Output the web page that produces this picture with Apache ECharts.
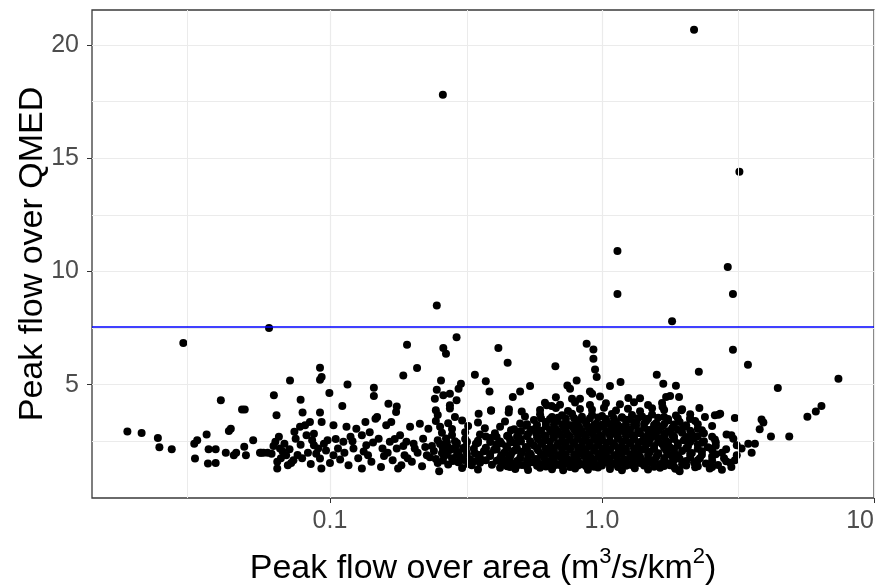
<!DOCTYPE html>
<html>
<head>
<meta charset="utf-8">
<title>Peak flow over QMED</title>
<script src="https://cdn.jsdelivr.net/npm/echarts@6/dist/echarts.min.js"></script>
<style>
  html, body { margin: 0; padding: 0; background: #fff; }
  #chart { width: 879px; height: 586px; }
</style>
</head>
<body>
<div id="chart"></div>
<script>
// [peak flow over area (m3/s/km2), peak flow over QMED]

// the scattered high ones
var highSites = [
  [2.18,20.67],[0.26,17.8],[3.2,14.4],[1.14,10.9],[2.9,10.2],[1.14,9.0],[3.03,9.0],[0.247,8.5],
  [1.81,7.8],[0.0597,7.5],[0.292,7.1],[0.0289,6.84],[0.878,6.81],[0.192,6.76],[0.261,6.62],
  [0.416,6.62],[0.93,6.56],[3.03,6.54],[0.267,6.37],[0.93,6.15],[0.45,5.97],[3.44,5.88],
  [0.674,5.82],[0.0919,5.75],[0.209,5.74],[0.943,5.67],[2.27,5.57],[0.341,5.44],[1.59,5.44],
  [0.186,5.41],[0.0932,5.34],[0.956,5.34],[7.4,5.26],[0.0919,5.22],[0.0713,5.19],[0.256,5.19],
  [0.807,5.19],[0.374,5.15],[1.17,5.12],[0.303,5.04],[1.68,5.04],[0.116,5.01],[0.746,4.97],
  [1.87,4.95],[1.07,4.94],[0.544,4.94],[0.145,4.87],[4.43,4.86],[0.297,4.82],[0.763,4.82],
  [0.247,4.78],[0.386,4.70],[0.5,4.70],[0.903,4.70],[0.0995,4.63],[0.276,4.60],[0.92,4.6],
  [0.0622,4.53],[0.261,4.53],[0.145,4.50],[1.78,4.50],[0.47,4.46],[1.92,4.46],[1.25,4.41],
  [0.243,4.38],[0.83,4.38],[0.078,4.34],[0.0397,4.31],[0.292,4.31],[0.164,4.16],[0.276,4.09],
  [0.626,4.09],[0.653,4.06],[6.41,4.06],[0.111,4.06],[0.176,4.04],[1.67,4.02],[2.28,3.97],
  [0.0475,3.91],[0.0486,3.91],[0.391,3.87],[1.96,3.87],[0.245,3.87],[0.507,3.82],[6.11,3.82],
  [0.175,3.80],[0.0793,3.77],[0.0919,3.77],[0.454,3.77],[0.352,3.72],[2.72,3.72],[2.68,3.68],
  [0.0636,3.65],[2.6,3.65],[5.69,3.59],[3.08,3.53],[2.11,3.5],[3.86,3.46],[0.0932,3.36],
  [3.92,3.33],[0.103,3.21],[3.8,3.03],[4.18,2.72],[4.88,2.72],[2.87,2.8],[2.99,2.77],
  [3.04,2.62],[3.45,2.40],[3.65,2.40],[3.13,2.33],[3.26,2.18],[3.55,2.0],[3.13,1.89],
  [3.08,1.67],[2.99,1.37],[1.93,1.18],[1.92,1.22],[1.78,1.45],[0.252,1.18],[0.332,1.45],
  [0.356,1.56],[0.459,1.37]
];

// small catchment ratios, left of 0.06
var leftSites = [
  [0.018,2.94],[0.0203,2.87],[0.0233,2.65],[0.0236,2.24],[0.0262,2.15],[0.0317,2.4],[0.0325,2.55],
  [0.0319,1.74],[0.0352,2.8],[0.0358,2.15],[0.038,2.15],[0.0356,1.52],[0.038,1.55],[0.0425,2.96],
  [0.0432,3.06],[0.0414,2.0],[0.0443,1.89],[0.0452,2.0],[0.0484,2.26],[0.0491,1.89],[0.0522,2.55],
  [0.0559,2.0],[0.0553,2.0],[0.057,2.0],[0.059,2.0]
];

// between 0.06 and 0.23
var midSites = [
  [0.063,2.48],[0.0649,2.7],[0.0655,2.18],[0.064,1.6],[0.064,1.3],[0.069,1.89],[0.07,1.45],
  [0.0734,1.67],[0.074,2.92],[0.0748,2.62],[0.0776,3.14],[0.081,3.21],[0.0844,3.36],[0.082,2.77],
  [0.0873,2.84],[0.0873,2.33],[0.0905,2.18],[0.0919,1.74],[0.093,1.3],[0.0967,2.1],[0.098,2.55],
  [0.103,1.89],[0.107,2.18],[0.112,2.48],[0.115,3.14],[0.119,2.7],[0.122,2.18],[0.125,3.06],
  [0.131,2.77],[0.131,1.3],[0.135,3.36],[0.136,2.33],[0.138,1.89],[0.142,1.6],[0.147,3.5],
  [0.149,3.58],[0.151,2.62],[0.154,1.37],[0.156,2.18],[0.161,3.21],[0.166,2.48],[0.168,3.36],
  [0.17,1.67],[0.176,2.18],[0.181,2.77],[0.183,1.45],[0.188,1.89],[0.191,2.48],[0.197,3.14],
  [0.2,1.6],[0.205,2.18],[0.214,3.28],[0.22,2.62],[0.227,1.89],[0.23,3.06],
  [0.061,1.95],[0.062,2.3],[0.066,1.75],[0.067,2.05],[0.068,2.4],[0.071,2.15],[0.072,1.55],
  [0.076,1.9],[0.078,2.35],[0.079,1.75],[0.083,2.0],[0.085,1.5],[0.086,2.55],[0.089,1.95],
  [0.095,2.4],[0.1,1.55],[0.105,2.6],[0.109,1.7],[0.113,2.0],[0.117,1.45],[0.121,2.5],
  [0.127,1.75],[0.133,2.05],[0.14,2.9],[0.144,2.45],[0.158,1.85],[0.163,2.0],[0.173,2.6],
  [0.178,1.3],[0.186,2.3],[0.193,1.75],[0.203,2.4],[0.21,2.0],[0.218,1.4],[0.224,2.25]
];

// the dense band 0.23 - 3, read row by row
var denseSites = [
  [0.306,1.32],[0.35,1.26],[0.422,1.34],[0.48,1.28],[0.535,1.24],[0.592,1.33],[0.655,1.27],
  [0.72,1.22],[0.796,1.3],[0.888,1.25],[0.967,1.35],[1.07,1.28],[1.184,1.23],[1.32,1.31],
  [1.477,1.26],[1.635,1.34],[1.86,1.29],[2.2,1.36],[2.49,1.3],[2.76,1.25],

  [0.249,1.55],[0.272,1.48],[0.296,1.58],[0.322,1.5],[0.356,1.6],[0.394,1.47],[0.43,1.55],
  [0.467,1.52],[0.508,1.46],[0.553,1.58],[0.602,1.5],[0.644,1.56],[0.689,1.47],[0.737,1.53],
  [0.789,1.6],[0.844,1.49],[0.903,1.55],[0.967,1.46],[1.034,1.58],[1.107,1.51],[1.184,1.56],
  [1.268,1.47],[1.38,1.54],[1.502,1.58],[1.635,1.5],[1.78,1.55],[1.97,1.48],[2.18,1.57],
  [2.41,1.52],[2.67,1.46],[2.96,1.56],

  [0.233,1.8],[0.245,1.72],[0.263,1.84],[0.281,1.76],[0.301,1.82],[0.327,1.71],[0.356,1.79],
  [0.388,1.85],[0.422,1.74],[0.459,1.81],[0.5,1.77],[0.535,1.86],[0.572,1.72],[0.612,1.8],
  [0.655,1.75],[0.701,1.83],[0.75,1.7],[0.803,1.78],[0.859,1.85],[0.919,1.73],[0.983,1.8],
  [1.052,1.76],[1.126,1.84],[1.205,1.71],[1.289,1.79],[1.38,1.82],[1.477,1.74],[1.581,1.8],
  [1.692,1.77],[1.81,1.85],[1.93,1.73],[2.11,1.8],[2.29,1.76],[2.54,1.83],[2.81,1.75],

  [0.241,2.08],[0.258,1.98],[0.276,2.12],[0.296,2.03],[0.316,2.1],[0.341,1.97],[0.368,2.06],
  [0.401,2.13],[0.437,2.0],[0.475,2.09],[0.508,2.04],[0.544,1.96],[0.582,2.11],[0.622,2.02],
  [0.666,2.08],[0.713,1.99],[0.763,2.14],[0.816,2.05],[0.874,1.97],[0.935,2.1],[1.0,2.03],
  [1.07,2.12],[1.145,1.98],[1.225,2.07],[1.311,2.01],[1.404,2.13],[1.502,2.04],[1.608,1.98],
  [1.721,2.1],[1.84,2.02],[1.97,2.08],[2.14,1.99],[2.33,2.06],[2.54,2.12],[2.76,2.0],

  [0.237,2.3],[0.254,2.38],[0.272,2.24],[0.291,2.33],[0.316,2.27],[0.344,2.39],[0.374,2.22],
  [0.408,2.35],[0.444,2.28],[0.483,2.4],[0.525,2.25],[0.562,2.32],[0.602,2.38],[0.644,2.23],
  [0.689,2.34],[0.737,2.29],[0.789,2.4],[0.844,2.24],[0.903,2.31],[0.967,2.37],[1.034,2.22],
  [1.107,2.33],[1.184,2.28],[1.268,2.39],[1.357,2.25],[1.452,2.34],[1.554,2.3],[1.663,2.38],
  [1.78,2.23],[1.90,2.32],[2.07,2.27],[2.25,2.36],[2.45,2.24],[2.62,2.31],

  [0.249,2.55],[0.267,2.63],[0.288,2.5],[0.314,2.6],[0.35,2.53],[0.388,2.65],[0.422,2.49],
  [0.459,2.58],[0.5,2.62],[0.544,2.51],[0.582,2.6],[0.622,2.55],[0.666,2.66],[0.713,2.49],
  [0.763,2.57],[0.816,2.63],[0.874,2.52],[0.935,2.6],[1.0,2.56],[1.07,2.48],[1.145,2.64],
  [1.225,2.54],[1.311,2.61],[1.404,2.5],[1.502,2.58],[1.608,2.65],[1.721,2.52],[1.84,2.6],
  [2.0,2.55],[2.18,2.63],[2.37,2.5],[2.6,2.58],

  [0.258,2.88],[0.281,2.78],[0.314,2.9],[0.356,2.8],[0.404,2.86],[0.452,2.76],[0.491,2.92],
  [0.535,2.82],[0.572,2.87],[0.612,2.77],[0.655,2.9],[0.701,2.83],[0.75,2.79],[0.803,2.91],
  [0.859,2.81],[0.919,2.87],[0.983,2.76],[1.052,2.89],[1.126,2.82],[1.205,2.93],[1.289,2.78],
  [1.38,2.86],[1.477,2.8],[1.581,2.9],[1.692,2.84],[1.81,2.77],[1.97,2.88],[2.14,2.81],[2.37,2.86],

  [0.254,3.15],[0.281,3.05],[0.322,3.18],[0.371,3.08],[0.422,3.14],[0.475,3.03],[0.525,3.19],
  [0.572,3.1],[0.622,3.16],[0.677,3.04],[0.725,3.12],[0.776,3.2],[0.83,3.07],[0.888,3.14],
  [0.951,3.02],[1.017,3.17],[1.088,3.09],[1.164,3.13],[1.246,3.05],[1.334,3.19],[1.428,3.1],
  [1.528,3.04],[1.663,3.16],[1.81,3.08],[2.0,3.13],[2.25,3.06],[2.54,3.18],

  [0.245,3.4],[0.272,3.3],[0.306,3.42],[0.35,3.33],[0.44,3.38],[0.5,3.29],[0.562,3.44],
  [0.622,3.35],[0.677,3.4],[0.737,3.31],[0.803,3.43],[0.874,3.36],[0.951,3.28],[1.034,3.41],
  [1.126,3.34],[1.225,3.45],[1.334,3.32],[1.452,3.39],[1.581,3.3],[1.75,3.42],[1.93,3.35],[2.2,3.4],

  [0.249,3.66],[0.288,3.58],[0.521,3.6],[0.592,3.7],[0.655,3.57],[0.713,3.65],[0.776,3.72],
  [0.844,3.59],[0.919,3.68],[1.0,3.62],[1.088,3.71],[1.184,3.56],[1.289,3.66],[1.404,3.6],
  [1.528,3.69],[1.692,3.57],[1.87,3.64],[2.11,3.7],[2.39,3.58],

  [0.276,3.95],[0.391,3.85],[0.455,3.92],[0.592,3.88],[0.677,3.97],[0.75,3.84],[0.83,3.93],
  [0.919,3.89],[1.017,3.98],[1.126,3.86],[1.246,3.94],[1.38,3.83],[1.528,3.96],[1.692,3.88],[1.97,3.92],

  [0.617,4.2],[0.701,4.12],[0.796,4.22],[0.903,4.1],[1.034,4.18],[1.164,4.14],[1.311,4.23],
  [1.477,4.11],[1.663,4.19],
  [0.677,4.45],[0.776,4.38],[0.983,4.48],[1.38,4.4],[1.721,4.46]
];

// the solid black core, between the rows above
var coreSites = [
  [0.448,1.4],[0.487,1.43],[0.53,1.38],[0.577,1.42],[0.622,1.39],[0.666,1.44],[0.713,1.4],
  [0.763,1.37],[0.816,1.43],[0.874,1.4],[0.935,1.38],[1.0,1.44],[1.07,1.41],[1.145,1.37],
  [1.225,1.42],[1.311,1.4],[1.428,1.44],[1.554,1.38],[1.692,1.41],[1.84,1.39],[2.04,1.43],
  [2.25,1.4],[2.54,1.37],

  [0.26,1.66],[0.283,1.63],[0.309,1.68],[0.338,1.62],[0.374,1.67],[0.41,1.64],[0.448,1.69],
  [0.487,1.63],[0.53,1.66],[0.577,1.68],[0.622,1.62],[0.666,1.65],[0.713,1.69],[0.763,1.64],
  [0.816,1.66],[0.874,1.62],[0.935,1.68],[1.0,1.65],[1.07,1.63],[1.145,1.67],[1.225,1.64],
  [1.311,1.69],[1.428,1.62],[1.554,1.66],[1.692,1.64],[1.84,1.68],[2.04,1.63],[2.25,1.67],
  [2.54,1.65],[2.86,1.62],

  [0.269,1.93],[0.293,1.9],[0.319,1.95],[0.35,1.91],[0.388,1.94],[0.426,1.89],[0.463,1.93],
  [0.504,1.96],[0.548,1.9],[0.597,1.92],[0.644,1.95],[0.689,1.89],[0.737,1.93],[0.789,1.91],
  [0.844,1.95],[0.903,1.9],[0.967,1.94],[1.034,1.92],[1.107,1.89],[1.184,1.95],[1.268,1.91],
  [1.357,1.93],[1.477,1.9],[1.608,1.95],[1.75,1.92],[1.9,1.89],[2.11,1.94],[2.33,1.91],[2.62,1.93],

  [0.26,2.2],[0.283,2.16],[0.309,2.21],[0.338,2.17],[0.374,2.19],[0.41,2.15],[0.448,2.21],
  [0.487,2.18],[0.53,2.16],[0.577,2.2],[0.622,2.17],[0.666,2.21],[0.713,2.15],[0.763,2.19],
  [0.816,2.22],[0.874,2.16],[0.935,2.2],[1.0,2.18],[1.07,2.15],[1.145,2.21],[1.225,2.17],
  [1.311,2.2],[1.428,2.16],[1.554,2.19],[1.692,2.22],[1.84,2.16],[2.04,2.2],[2.25,2.17],
  [2.54,2.19],[2.86,2.15],

  [0.269,2.46],[0.293,2.43],[0.319,2.48],[0.35,2.44],[0.388,2.47],[0.426,2.42],[0.463,2.46],
  [0.504,2.49],[0.548,2.43],[0.597,2.45],[0.644,2.48],[0.689,2.42],[0.737,2.46],[0.789,2.44],
  [0.844,2.48],[0.903,2.43],[0.967,2.47],[1.034,2.45],[1.107,2.42],[1.184,2.48],[1.268,2.44],
  [1.357,2.46],[1.477,2.43],[1.608,2.48],[1.75,2.45],[1.9,2.42],[2.11,2.47],[2.33,2.44],[2.62,2.46],

  [0.374,2.72],[0.41,2.69],[0.448,2.74],[0.487,2.7],[0.53,2.73],[0.577,2.68],[0.622,2.72],
  [0.666,2.75],[0.713,2.69],[0.763,2.71],[0.816,2.74],[0.874,2.68],[0.935,2.72],[1.0,2.7],
  [1.07,2.74],[1.145,2.69],[1.225,2.73],[1.311,2.71],[1.428,2.68],[1.554,2.74],[1.692,2.7],
  [1.84,2.72],[2.04,2.69],[2.25,2.73],[2.54,2.7],

  [0.463,2.99],[0.504,2.96],[0.548,3.01],[0.597,2.97],[0.644,3.0],[0.689,2.95],[0.737,2.99],
  [0.789,3.02],[0.844,2.96],[0.903,2.98],[0.967,3.01],[1.034,2.95],[1.107,2.99],[1.184,2.97],
  [1.268,3.01],[1.357,2.96],[1.477,3.0],[1.608,2.98],[1.75,2.95],[1.9,3.01],[2.11,2.97],[2.33,2.99],

  [0.53,3.25],[0.577,3.22],[0.622,3.27],[0.666,3.23],[0.713,3.26],[0.763,3.21],[0.816,3.25],
  [0.874,3.28],[0.935,3.22],[1.0,3.24],[1.07,3.27],[1.145,3.21],[1.225,3.25],[1.311,3.23],
  [1.428,3.27],[1.554,3.22],[1.692,3.26],[1.84,3.24],[2.04,3.21],[2.25,3.25],

  [0.597,3.52],[0.644,3.49],[0.689,3.54],[0.737,3.5],[0.789,3.53],[0.844,3.48],[0.903,3.52],
  [0.967,3.55],[1.034,3.49],[1.107,3.51],[1.184,3.54],[1.268,3.48],[1.357,3.52],[1.477,3.5],
  [1.608,3.54],[1.75,3.49],[1.9,3.52],[2.11,3.5]
];

var xTickValues = [0.1, 1, 10];
var xTickLabels = ['0.1', '1.0', '10'];
var yTickValues = [5, 10, 15, 20];
var xMinorBreaks = [0.0316, 0.316, 3.16];
var qmedLimit = 7.56;

var allSites = highSites.concat(leftSites, midSites, denseSites, coreSites);

var chart = echarts.init(document.getElementById('chart'));

var font = "'Liberation Sans', Arial, sans-serif";
var gridColor = '#ebebeb';

var option = {
    animation: false,
    backgroundColor: '#fff',
    grid: {
        left: 92,
        right: 5,
        top: 10,
        bottom: 88,
        containLabel: false,
        outerBoundsMode: 'none',
        show: true,
        borderColor: '#3a3a3a',
        borderWidth: 1.3
    },
    xAxis: {
        type: 'log',
        logBase: 10,
        min: 0.01334,
        max: 10,
        name: '{t|Peak flow over area (m}{s|3}{t|/s/km}{s|2}{t|)}',
        nameLocation: 'middle',
        nameGap: 48,
        nameMoveOverlap: false,
        nameTextStyle: {
            rich: {
                t: { fontSize: 34, fontFamily: font, color: '#000', lineHeight: 40, verticalAlign: 'bottom' },
                s: { fontSize: 22, fontFamily: font, color: '#000', lineHeight: 40, verticalAlign: 'top' }
            }
        },
        axisLine: { show: false },
        axisTick: { show: true, length: 5, customValues: xTickValues, lineStyle: { color: '#333' } },
        axisLabel: {
            show: true,
            margin: 11,
            fontSize: 25,
            fontFamily: font,
            color: '#4d4d4d',
            customValues: xTickValues,
            alignMaxLabel: 'right',
            formatter: function (v) {
                for (var i = 0; i < xTickValues.length; i++) {
                    if (Math.abs(v / xTickValues[i] - 1) < 1e-6) return xTickLabels[i];
                }
                return '';
            }
        },
        splitLine: { show: true, lineStyle: { color: gridColor, width: 1.2 } }
    },
    yAxis: {
        type: 'value',
        min: 0,
        max: 21.54,
        interval: 5,
        name: 'Peak flow over QMED',
        nameLocation: 'middle',
        nameRotate: 90,
        nameGap: 42,
        nameMoveOverlap: false,
        nameTextStyle: { fontSize: 34, fontFamily: font, color: '#000' },
        axisLine: { show: false },
        axisTick: { show: true, length: 5, customValues: yTickValues, lineStyle: { color: '#333' } },
        axisLabel: {
            margin: 13,
            fontSize: 25,
            fontFamily: font,
            color: '#4d4d4d',
            customValues: yTickValues
        },
        splitLine: { show: true, lineStyle: { color: gridColor, width: 1.2 } },
        minorTick: { show: false, splitNumber: 2 },
        minorSplitLine: { show: true, lineStyle: { color: gridColor, width: 1 } }
    },
    series: [
        {
            // minor breaks of the log axis
            type: 'scatter',
            data: [],
            z: 1,
            silent: true,
            markLine: {
                silent: true,
                symbol: 'none',
                label: { show: false },
                lineStyle: { color: gridColor, width: 1, type: 'solid' },
                data: xMinorBreaks.map(function (v) { return { xAxis: v }; })
            }
        },
        {
            type: 'scatter',
            data: allSites,
            symbol: 'circle',
            symbolSize: 8,
            itemStyle: { color: '#000', opacity: 1 },
            z: 3
        },
        {
            type: 'scatter',
            data: [],
            z: 5,
            markLine: {
                silent: true,
                symbol: 'none',
                label: { show: false },
                lineStyle: { color: '#0000ff', width: 1.6, type: 'solid' },
                data: [{ yAxis: qmedLimit }]
            }
        }
    ]
};

chart.setOption(option);
</script>
</body>
</html>
